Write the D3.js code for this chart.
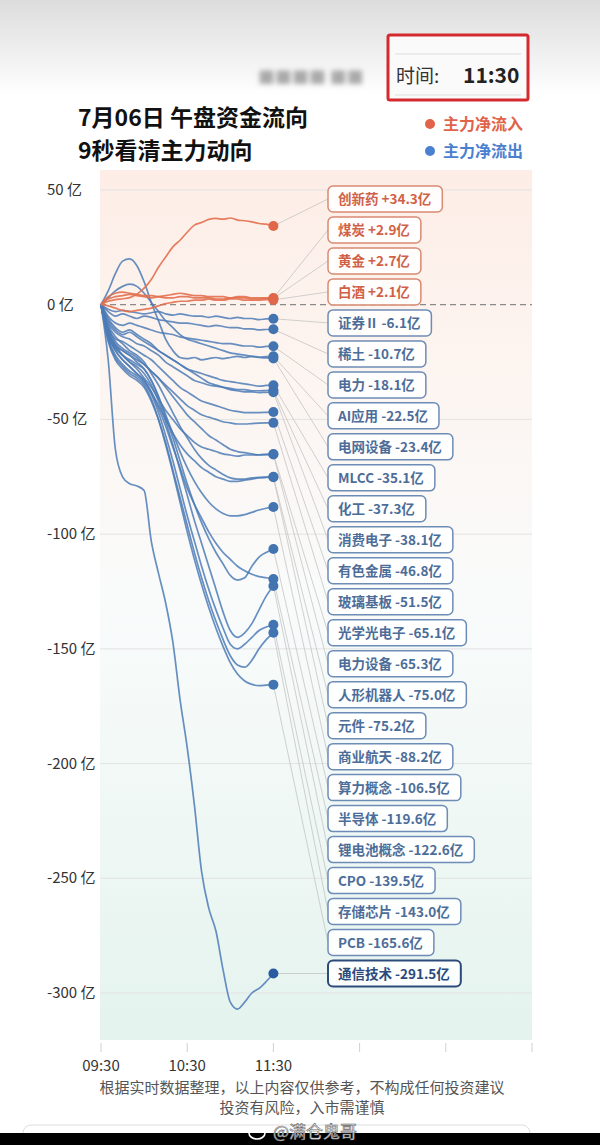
<!DOCTYPE html>
<html>
<head>
<meta charset="utf-8">
<script src="https://cdn.jsdelivr.net/npm/d3@7/dist/d3.min.js"></script>
<style>
body{margin:0;background:#fff;}
svg{display:block;font-family:"Noto Sans CJK SC","Noto Sans",sans-serif;}
</style>
</head>
<body>
<svg id="chart" width="600" height="1145"></svg>
<script>
// sectors, ordered as in the label column
var sectors = ["创新药","煤炭","黄金","白酒","证券Ⅱ","稀土","电力","AI应用","电网设备","MLCC","化工","消费电子","有色金属","玻璃基板","光学光电子","电力设备","人形机器人","元件","商业航天","算力概念","半导体","锂电池概念","CPO","存储芯片","PCB","通信技术"];
var finalFlows = [34.3,2.9,2.7,2.1,-6.1,-10.7,-18.1,-22.5,-23.4,-35.1,-37.3,-38.1,-46.8,-51.5,-65.1,-65.3,-75.0,-75.2,-88.2,-106.5,-119.6,-122.6,-139.5,-143.0,-165.6,-291.5];

// minutes after 09:30
var minutes = [0,5,10,15,20,25,30,35,40,45,50,55,60,65,70,75,80,85,90,95,100,105,110,115,120];

// net main-force flow (亿) per sector, same order as sectors
var flowSeries = [
  [0,1.5,2.2,2.6,3.1,4.6,7.2,11,16.3,20.8,25.2,28.1,31.6,34.7,35.8,37.2,37.6,37.3,37.8,36.9,36.6,36.1,35.4,35.1,34.3],
  [0,2.5,3.5,4,4.5,4,3.5,3,3.5,4,4.5,5,4.5,4,4,3.5,3.5,3.5,3,3.5,3.5,3,3,3,2.9],
  [0,3.5,5,5.5,5,4.5,4,4,3.5,3,3,3.5,3.5,3,3,3,2.5,2.5,3,3,3,2.5,2.5,2.8,2.7],
  [0,-0.5,-1.5,-2.5,-3,-2.5,-2,-1.5,-0.5,0.5,1,1.5,1.5,2,2,2.5,2,2,2.5,2.5,2,2,2,2.2,2.1],
  [0,-2,-3,-2.5,-3,-3.5,-4,-3.5,-3,-4,-4.5,-4,-4.5,-5,-5,-5.5,-5,-5.5,-6,-5.5,-6,-6,-6.5,-6.2,-6.1],
  [0,-3,-5,-4,-5,-6,-5,-5.5,-6.5,-7,-7.5,-8,-8,-8.5,-9,-9.5,-9,-9.5,-10,-10,-10.5,-10.5,-11,-10.8,-10.7],
  [0,-5,-8,-9,-8,-9,-10,-11,-12,-12.5,-13,-14,-14.5,-15,-15.5,-16,-16.5,-17,-17,-17.5,-18,-18,-18.5,-18.2,-18.1],
  [0,6,13.5,19,20,17,10,1,-7,-15,-20,-23,-23.5,-23,-24,-23.5,-23,-23.5,-23,-22.5,-23,-22.5,-22.8,-22.6,-22.5],
  [0,3,6,8,9,8,5,1,-3,-7,-10,-13,-15,-16,-17,-18,-19,-20,-21,-21.5,-22,-22.5,-23,-23.2,-23.4],
  [0,-6,-10,-12,-11,-13,-15,-17,-20,-22,-24,-26,-28,-29,-30,-31,-32,-33,-33.5,-34,-34.5,-35,-35.5,-35.2,-35.1],
  [0,-8,-12,-14,-15,-17,-18,-20,-22,-25,-27,-29,-31,-33,-34,-35,-35.5,-36,-36.5,-37,-37,-37.5,-37.5,-37.4,-37.3],
  [0,-7,-11,-13,-12,-14,-16,-18,-20,-22,-24,-26,-28,-30,-32,-34,-35,-36,-37,-37.5,-38,-38,-38.3,-38.2,-38.1],
  [0,-10,-15,-16,-18,-20,-22,-24,-27,-30,-33,-36,-38,-40,-42,-43,-44,-45,-46,-46.5,-47,-47,-47,-46.9,-46.8],
  [0,-12,-18,-20,-22,-24,-26,-29,-32,-35,-38,-41,-44,-46,-48,-49,-50,-51,-51.5,-52,-52,-51.8,-51.6,-51.5,-51.5],
  [0,-10,-16,-19,-21,-23,-26,-29,-32,-36,-40,-44,-48,-51,-54,-57,-59,-61,-63,-64,-64.5,-65,-65.5,-65.2,-65.1],
  [0,-12,-18,-22,-25,-28,-32,-36,-41,-46,-50,-54,-57,-60,-62,-63,-64,-65,-65.5,-66,-65.5,-65.5,-65.4,-65.3,-65.3],
  [0,-9,-14,-17,-20,-22,-25,-30,-35,-41,-47,-53,-58,-63,-67,-70,-72,-74,-75.5,-76,-76,-75.5,-75.2,-75.1,-75.0],
  [0,-13,-20,-24,-27,-30,-33,-38,-44,-50,-56,-61,-65,-68,-71,-73,-75,-76,-77,-77,-76.5,-76,-75.5,-75.3,-75.2],
  [0,-11,-17,-20,-22,-25,-28,-33,-40,-48,-56,-64,-71,-77,-82,-86,-89,-91,-92,-92,-91.5,-90.5,-89.5,-88.7,-88.2],
  [0,-12,-18,-22,-24,-26,-28,-33,-40,-49,-58,-68,-78,-87,-95,-102,-108,-113,-118,-120,-119,-114,-110,-108,-106.5],
  [0,-14,-20,-24,-27,-30,-33,-38,-45,-53,-62,-71,-80,-87,-93,-99,-104,-108,-111,-114,-116,-117.5,-118.5,-119,-119.6],
  [0,-13,-19,-22,-25,-27,-30,-35,-42,-51,-61,-72,-83,-94,-104,-114,-124,-134,-142,-145,-143,-139,-133,-127,-122.6],
  [0,-15,-22,-26,-29,-31,-34,-39,-47,-57,-68,-80,-92,-103,-114,-124,-133,-141,-148,-150,-148,-145,-142,-140.5,-139.5],
  [0,-16,-24,-28,-31,-33,-36,-42,-50,-60,-72,-84,-96,-108,-119,-129,-138,-146,-153,-157,-158,-155,-150,-146,-143],
  [0,-15,-23,-27,-30,-32,-35,-41,-50,-61,-73,-86,-99,-111,-122,-132,-141,-149,-156,-161,-164,-165.5,-166,-165.8,-165.6],
  [0,-24,-63,-75,-78,-79,-81,-103,-117,-130,-147,-172,-193,-218,-247,-263,-273,-290,-304,-307,-304,-300,-298,-295,-291.5]
];

var yTicks = [50,0,-50,-100,-150,-200,-250,-300];
var xTicks = [0,60,120,180,240,300];
var xTickLabels = ["09:30","10:30","11:30","","",""];

var svg = d3.select("#chart");
var defs = svg.append("defs");

var topGrad = defs.append("linearGradient").attr("id","topGrad").attr("x1",0).attr("y1",0).attr("x2",0).attr("y2",1);
topGrad.append("stop").attr("offset","0").attr("stop-color","#dcdcdc");
topGrad.append("stop").attr("offset","1").attr("stop-color","#ffffff");

var bgGrad = defs.append("linearGradient").attr("id","bgGrad").attr("x1",0).attr("y1",0).attr("x2",0).attr("y2",1);
bgGrad.append("stop").attr("offset","0").attr("stop-color","#fdede6");
bgGrad.append("stop").attr("offset","0.2").attr("stop-color","#fdf4ef");
bgGrad.append("stop").attr("offset","0.5").attr("stop-color","#f9fbfb");
bgGrad.append("stop").attr("offset","0.78").attr("stop-color","#eef7f4");
bgGrad.append("stop").attr("offset","1").attr("stop-color","#e4f3ee");

var blur = defs.append("filter").attr("id","blur").attr("x","-20%").attr("y","-50%").attr("width","140%").attr("height","200%");
blur.append("feGaussianBlur").attr("stdDeviation",2.5);

// page background
svg.append("rect").attr("x",0).attr("y",0).attr("width",600).attr("height",95).attr("fill","url(#topGrad)");

var x = d3.scaleLinear().domain([0,300]).range([101,532]);
var y = d3.scaleLinear().domain([-300,50]).range([993,190]);

// plot background
svg.append("rect").attr("x",100).attr("y",170).attr("width",432).attr("height",870).attr("fill","url(#bgGrad)");

// grid
svg.append("g").selectAll("line").data(yTicks.filter(function(d){return d!==0;})).enter().append("line")
  .attr("x1",100).attr("x2",532)
  .attr("y1",function(d){return y(d);}).attr("y2",function(d){return y(d);})
  .attr("stroke","#e3e3e3").attr("stroke-width",1);

svg.append("line").attr("x1",100).attr("x2",532).attr("y1",y(0)).attr("y2",y(0))
  .attr("stroke","#8a8a8a").attr("stroke-width",1.2).attr("stroke-dasharray","6,4");

// y labels
svg.append("g").selectAll("text").data(yTicks).enter().append("text")
  .attr("x",47).attr("y",function(d){return y(d)+5;})
  .attr("font-size",15).attr("fill","#333")
  .text(function(d){return d+" 亿";});

// x ticks
var xg = svg.append("g");
xg.selectAll("line").data(xTicks).enter().append("line")
  .attr("x1",function(d){return x(d);}).attr("x2",function(d){return x(d);})
  .attr("y1",1043).attr("y2",1052).attr("stroke","#d0d0d0").attr("stroke-width",1);
xg.selectAll("text").data(xTicks).enter().append("text")
  .attr("x",function(d){return x(d);}).attr("y",1071)
  .attr("text-anchor","middle").attr("font-size",15).attr("fill","#333")
  .text(function(d,i){return xTickLabels[i];});

// rows for labels
var row = d3.scalePoint().domain(sectors).range([199,973.5]);
var endMinute = minutes[minutes.length-1];

var items = sectors.map(function(s,i){
  return {name:s, value:finalFlows[i], series:flowSeries[i], last:i===sectors.length-1};
});

// connectors
svg.append("g").selectAll("line").data(items).enter().append("line")
  .attr("x1",x(endMinute)).attr("y1",function(d){return y(d.value);})
  .attr("x2",328).attr("y2",function(d){return row(d.name);})
  .attr("stroke","#c4c4c4").attr("stroke-width",0.8);

var line = d3.line()
  .x(function(d,i){return x(minutes[i]);})
  .y(function(d){return y(d);})
  .curve(d3.curveMonotoneX);

var neg = items.filter(function(d){return d.value<0;});
var pos = items.filter(function(d){return d.value>=0;});

svg.append("g").selectAll("path").data(neg).enter().append("path")
  .attr("d",function(d){return line(d.series);})
  .attr("fill","none").attr("stroke","#4c7bb6").attr("stroke-opacity",0.85)
  .attr("stroke-width",1.7).attr("stroke-linejoin","round");
svg.append("g").selectAll("path").data(pos).enter().append("path")
  .attr("d",function(d){return line(d.series);})
  .attr("fill","none").attr("stroke","#e2704f").attr("stroke-opacity",0.9)
  .attr("stroke-width",1.7).attr("stroke-linejoin","round");

// end dots
svg.append("g").selectAll("circle").data(items).enter().append("circle")
  .attr("cx",x(endMinute)).attr("cy",function(d){return y(d.value);}).attr("r",5)
  .attr("fill",function(d){return d.value>=0?"#e0674a":(d.last?"#2a5aa0":"#4274b2");});

// label boxes
var lab = svg.append("g").selectAll("g").data(items).enter().append("g")
  .attr("transform",function(d){return "translate(328,"+row(d.name)+")";});
lab.each(function(d){
  var g = d3.select(this);
  var r = g.append("rect");
  var t = g.append("text").attr("x",10).attr("y",5)
    .attr("font-size",13.5).attr("font-weight","bold")
    .attr("fill",d.value>=0?"#cf6148":(d.last?"#2b4a7c":"#4d6d99"))
    .text(d.name+" "+(d.value>=0?"+":"")+d.value.toFixed(1)+"亿");
  var w = t.node().getComputedTextLength()+21;
  r.attr("x",0).attr("y",-13).attr("width",w).attr("height",26).attr("rx",5)
    .attr("fill","#ffffff").attr("fill-opacity",0.88)
    .attr("stroke",d.value>=0?"#d88a72":(d.last?"#2c4a7a":"#6d8cb6"))
    .attr("stroke-width",d.last?2:1.5);
});

// title
svg.append("text").attr("x",78).attr("y",126).attr("font-size",23).attr("font-weight","bold").attr("fill","#111").text("7月06日 午盘资金流向");
svg.append("text").attr("x",78).attr("y",159).attr("font-size",23).attr("font-weight","bold").attr("fill","#111").text("9秒看清主力动向");

// legend
var legend = [{t:"主力净流入",c:"#e0634a"},{t:"主力净流出",c:"#4a80d0"}];
var lg = svg.append("g").selectAll("g").data(legend).enter().append("g")
  .attr("transform",function(d,i){return "translate(430,"+(124+i*27)+")";});
lg.append("circle").attr("r",5).attr("fill",function(d){return d.c;});
lg.append("text").attr("x",13).attr("y",6).attr("font-size",16).attr("font-weight","bold")
  .attr("fill",function(d){return d.c;}).text(function(d){return d.t;});

// blurred source mark
svg.append("text").attr("x",258).attr("y",84).attr("font-size",17).attr("fill","#aaa")
  .attr("filter","url(#blur)").text("■■■■ ■■");

// time box
svg.append("rect").attr("x",388).attr("y",35).attr("width",140).attr("height",65)
  .attr("fill","#fafafa").attr("stroke","#d42a2f").attr("stroke-width",3).attr("rx",2);
svg.append("line").attr("x1",395).attr("x2",521).attr("y1",54).attr("y2",54).attr("stroke","#ddd");
svg.append("line").attr("x1",395).attr("x2",521).attr("y1",95).attr("y2",95).attr("stroke","#ddd");
svg.append("text").attr("x",396).attr("y",83).attr("font-size",19).attr("fill","#333").text("时间:");
svg.append("text").attr("x",463).attr("y",83).attr("font-size",21).attr("font-weight","bold").attr("fill","#222").text("11:30");

// footer
svg.append("text").attr("x",302).attr("y",1093).attr("text-anchor","middle").attr("font-size",15).attr("fill","#555")
  .text("根据实时数据整理，以上内容仅供参考，不构成任何投资建议");
svg.append("text").attr("x",302).attr("y",1113).attr("text-anchor","middle").attr("font-size",15).attr("fill","#555")
  .text("投资有风险，入市需谨慎");

svg.append("rect").attr("x",23).attr("y",1125).attr("width",507).attr("height",40).attr("rx",8)
  .attr("fill","#fff").attr("stroke","#ddd");
svg.append("rect").attr("x",0).attr("y",1133).attr("width",600).attr("height",12).attr("fill","#000");
svg.append("text").attr("x",273).attr("y",1138).attr("font-size",17).attr("fill","#fff")
  .attr("stroke","#666").attr("stroke-width",0.6).text("@满仓鬼哥");
svg.append("ellipse").attr("cx",257).attr("cy",1133).attr("rx",8).attr("ry",6)
  .attr("fill","none").attr("stroke","#fff").attr("stroke-width",1.6);
</script>
</body>
</html>
